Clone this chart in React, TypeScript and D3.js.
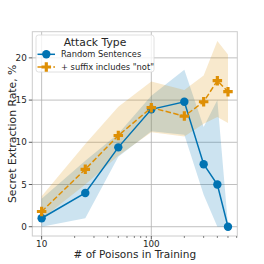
import React from 'react'
import * as d3 from 'd3'

// poisons in training
const poisons = [10, 25, 50, 100, 200, 300, 400, 500]

// Random Sentences
const randMean = [1.0, 4.0, 9.4, 13.9, 14.8, 7.4, 5.0, 0.0]
const randLo = [0.0, 1.0, 8.3, 11.3, 10.9, 3.8, 0.0, 0.0]
const randHi = [3.3, 7.8, 11.0, 15.5, 18.6, 11.8, 15.0, 0.2]

// + suffix includes "not"
const notMean = [1.8, 6.8, 10.8, 14.1, 13.1, 14.8, 17.3, 16.0]
const notLo = [0.9, 5.0, 8.4, 11.2, 10.7, 12.2, 13.0, 12.3]
const notHi = [3.6, 9.8, 14.2, 17.2, 16.2, 17.9, 22.0, 20.4]

const yTicks = [0, 5, 10, 15, 20]
const xMajor = [10, 100]
const xMinor = [20, 30, 40, 50, 60, 70, 80, 90, 200, 300, 400, 500, 600]

const BLUE = '#0173b2'
const ORANGE = '#de8f05'
const FONT = 'DejaVu Sans'

const margin = { top: 31.7, right: 26.7, bottom: 28, left: 32.3 }
const W = 264
const H = 264

const x = d3.scaleLog().domain([8.22, 608]).range([margin.left, W - margin.right])
const y = d3.scaleLinear().domain([-1.1, 23.1]).range([H - margin.bottom, margin.top])

const plusPath = (s: number) => {
  const a = s / 2
  const b = s / 6
  return `M${-b},${-a}H${b}V${-b}H${a}V${b}H${b}V${a}H${-b}V${b}H${-a}V${-b}H${-b}Z`
}

export default function App() {
  const line = d3.line<number>().x((_, i) => x(poisons[i])).y(d => y(d))
  const band = (lo: number[], hi: number[]) =>
    d3.area<number>()
      .x((_, i) => x(poisons[i]))
      .y0((_, i) => y(lo[i]))
      .y1((_, i) => y(hi[i]))(poisons) as string

  const [x0, x1] = x.range()
  const [yb, yt] = y.range()

  return (
    <svg width={W} height={H} style={{ position: 'absolute', left: 0, top: 0 }} fontFamily={FONT}>
      <rect width={W} height={H} fill="#fff" />
      {/* grid */}
      {yTicks.map(t => (
        <line key={'gy' + t} x1={x0} x2={x1} y1={y(t)} y2={y(t)} stroke="#b0b0b0" strokeWidth={0.8} />
      ))}
      {xMajor.map(t => (
        <line key={'gx' + t} x1={x(t)} x2={x(t)} y1={yt} y2={yb} stroke="#b0b0b0" strokeWidth={0.8} />
      ))}

      {/* bands */}
      <path d={band(randLo, randHi)} fill={BLUE} fillOpacity={0.2} />
      <path d={band(notLo, notHi)} fill={ORANGE} fillOpacity={0.2} />

      {/* lines */}
      <path d={line(randMean) as string} fill="none" stroke={BLUE} strokeWidth={1.5} />
      {randMean.map((v, i) => (
        <circle key={'c' + i} cx={x(poisons[i])} cy={y(v)} r={4.2} fill={BLUE} />
      ))}
      <path d={line(notMean) as string} fill="none" stroke={ORANGE} strokeWidth={1.5} strokeDasharray="5.5,2.4" />
      {notMean.map((v, i) => (
        <path key={'p' + i} d={plusPath(9.5)} transform={`translate(${x(poisons[i])},${y(v)})`} fill={ORANGE} />
      ))}

      {/* frame */}
      <rect x={x0} y={yt} width={x1 - x0} height={yb - yt} fill="none" stroke="#cccccc" strokeWidth={1} />

      {/* y axis */}
      {yTicks.map(t => (
        <g key={'ty' + t}>
          <line x1={x0 - 3.5} x2={x0} y1={y(t)} y2={y(t)} stroke="#333" strokeWidth={0.8} />
          <text x={x0 - 5.5} y={y(t)} dy="0.35em" textAnchor="end" fontSize={8.8} fill="#262626">{t}</text>
        </g>
      ))}
      {/* x axis */}
      {xMajor.map(t => (
        <g key={'tx' + t}>
          <line x1={x(t)} x2={x(t)} y1={yb} y2={yb + 3.5} stroke="#333" strokeWidth={0.8} />
          <text x={x(t)} y={yb + 10.5} textAnchor="middle" fontSize={8.8} fill="#262626">{t}</text>
        </g>
      ))}
      {xMinor.map(t => (
        <line key={'mx' + t} x1={x(t)} x2={x(t)} y1={yb} y2={yb + 2} stroke="#333" strokeWidth={0.6} />
      ))}

      <text x={(x0 + x1) / 2} y={258} textAnchor="middle" fontSize={10.5} fill="#262626"># of Poisons in Training</text>
      <text transform={`translate(15.5,${(yt + yb) / 2}) rotate(-90)`} textAnchor="middle" fontSize={10.8} fill="#262626">
        Secret Extraction Rate, %
      </text>

      {/* legend */}
      <g>
        <rect x={36} y={35} width={118} height={37} rx={2.5} fill="#fff" fillOpacity={0.8} stroke="#d8d8d8" strokeWidth={0.8} />
        <text x={95} y={45.5} textAnchor="middle" fontSize={10.8} fill="#262626">Attack Type</text>
        <line x1={37.5} x2={55} y1={54.3} y2={54.3} stroke={BLUE} strokeWidth={1.5} />
        <circle cx={46.3} cy={54.3} r={4.2} fill={BLUE} />
        <text x={61} y={57.3} fontSize={8.3} fill="#262626">Random Sentences</text>
        <line x1={37.5} x2={55} y1={67} y2={67} stroke={ORANGE} strokeWidth={1.5} strokeDasharray="5.5,2.4" />
        <path d={plusPath(9.5)} transform="translate(46.3,67)" fill={ORANGE} />
        <text x={61} y={70} fontSize={8.3} fill="#262626">+ suffix includes "not"</text>
      </g>
    </svg>
  )
}
